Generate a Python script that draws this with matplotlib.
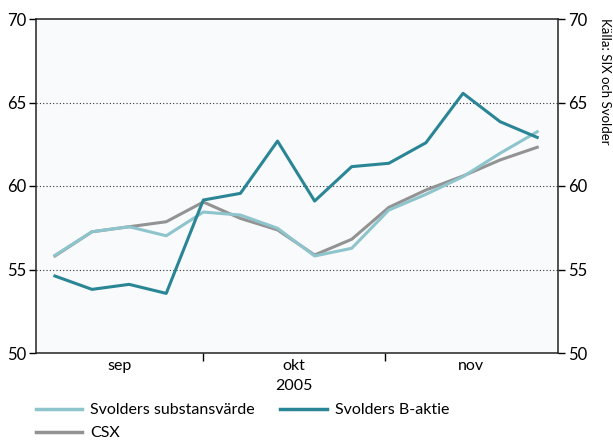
import numpy as np
import matplotlib
matplotlib.use("Agg")
from matplotlib import pyplot as plt
from matplotlib.lines import Line2D

plt.rcParams["font.family"] = ["Lato", "DejaVu Sans"]

# weekly observations, sep - nov 2005
substans = [55.85, 57.26, 57.56, 57.02, 58.44, 58.26, 57.47, 55.81, 56.27, 58.56, 59.50, 60.56, 61.96, 63.25]
b_aktie = [54.61, 53.81, 54.11, 53.57, 59.16, 59.56, 62.69, 59.10, 61.16, 61.36, 62.59, 65.55, 63.85, 62.91]
csx = [55.81, 57.26, 57.56, 57.86, 59.04, 58.06, 57.37, 55.87, 56.81, 58.72, 59.76, 60.60, 61.56, 62.32]
months = ["sep", "okt", "nov"]

c_sub = "#8ec4cc"
c_b = "#2a8595"
c_csx = "#939393"

fig = plt.figure(figsize=(6.13, 4.41), dpi=100)
ax = fig.add_axes([36/613, 1-353/441, (558-36)/613, (353-19)/441])
ax.set_facecolor("#f8fafc")

x = np.arange(len(substans))
ax.plot(x, csx, color=c_csx, lw=2.2, zorder=3)
ax.plot(x, substans, color=c_sub, lw=2.2, zorder=4)
ax.plot(x, b_aktie, color=c_b, lw=2.2, zorder=5)

ax.set_xlim(-0.51, 13.56)
ax.set_ylim(50, 70)

# month boundaries and centred labels
bounds = [-0.51, 3.99, 8.89, 13.56]
ax.set_xticks(bounds[1:3])
ax.set_xticklabels([])
ax.tick_params(axis="x", length=6, width=1, direction="out")
tr = ax.get_xaxis_transform()
for i, m in enumerate(months):
    ax.text((bounds[i] + bounds[i+1]) / 2, -0.04, m, transform=tr,
            ha="center", va="center", fontsize=11.5)
ax.text(6.44, -0.1, "2005", transform=tr, ha="center", va="center", fontsize=11.5)

ax.set_yticks([50, 55, 60, 65, 70])
ax.tick_params(axis="y", length=5, width=1, direction="out", labelsize=12,
               left=True, right=True, labelleft=True, labelright=True, pad=2)
for y in [55, 60, 65]:
    ax.axhline(y, color="#333333", lw=0.8, ls=(0, (1, 2)), zorder=1)

for s in ax.spines.values():
    s.set_linewidth(1.1)
    s.set_color("#222222")

fig.text(605/613, 1-18/441, "Källa: SIX och Svolder", rotation=-90,
         ha="center", va="top", fontsize=9.5)

# legend fills column by column, so order gives rows: substans | B-aktie / CSX
handles = [Line2D([], [], color=c_sub, lw=2.5), Line2D([], [], color=c_csx, lw=2.5),
           Line2D([], [], color=c_b, lw=2.5)]
labels = ["Svolders substansvärde", "CSX", "Svolders B-aktie"]
fig.legend(handles, labels, ncol=2, loc="upper left", bbox_to_anchor=(36/613, 1-403/441),
           frameon=False, fontsize=11.5, handlelength=2.9, handletextpad=0.5,
           columnspacing=1.6, labelspacing=0.55, borderpad=0, borderaxespad=0)

fig.savefig("out.png", dpi=100)
